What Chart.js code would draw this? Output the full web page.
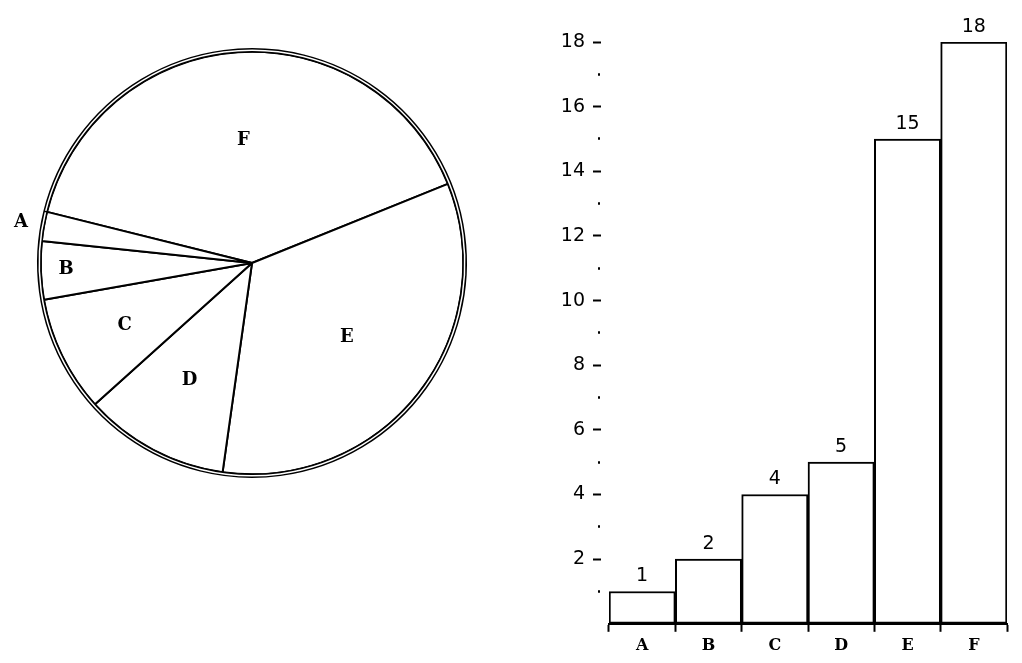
<!DOCTYPE html>
<html lang="en">
<head>
    <meta charset="UTF-8">
    <title>Pie and bar chart</title>
    <script src="https://cdn.jsdelivr.net/npm/chart.js@4.4.0/dist/chart.umd.min.js"></script>
    <style>
        body {
            margin: 0;
            background: white;
            width: 1022px;
            height: 663px;
            overflow: hidden;
            position: relative;
        }
        #pieChart {
            position: absolute;
            left: 0;
            top: 0;
        }
        #barChart {
            position: absolute;
            left: 540px;
            top: 0;
        }
    </style>
</head>
<body>
    <canvas id="pieChart" width="504" height="526"></canvas>
    <canvas id="barChart" width="482" height="663"></canvas>

    <script>
        // data
        const categories = ['A', 'B', 'C', 'D', 'E', 'F'];
        const values = [1, 2, 4, 5, 15, 18];
        const yTicks = [2, 4, 6, 8, 10, 12, 14, 16, 18];

        // how far out (share of radius) each pie letter sits
        const pieLabelRadius = { A: 1.11, B: 0.88, C: 0.67, D: 0.63, E: 0.57, F: 0.58 };

        const total = values.reduce((a, b) => a + b, 0);
        // slices run the other way round in the drawing
        const pieLabels = categories.slice().reverse();
        const pieValues = values.slice().reverse();

        const letterFont = '"DejaVu Serif", "Liberation Serif", serif';

        Chart.defaults.animation = false;
        Chart.defaults.color = '#000';

        const pieLetters = {
            id: 'pieLetters',
            afterDatasetsDraw(chart) {
                const ctx = chart.ctx;
                const meta = chart.getDatasetMeta(1);
                ctx.save();
                ctx.font = 'bold 18px ' + letterFont;
                ctx.fillStyle = '#000';
                ctx.textAlign = 'center';
                ctx.textBaseline = 'middle';
                meta.data.forEach((arc, i) => {
                    const p = arc.getProps(['x', 'y', 'startAngle', 'endAngle', 'outerRadius'], true);
                    const mid = (p.startAngle + p.endAngle) / 2;
                    const r = p.outerRadius * pieLabelRadius[pieLabels[i]];
                    ctx.fillText(pieLabels[i], p.x + Math.cos(mid) * r, p.y + Math.sin(mid) * r);
                });
                ctx.restore();
            }
        };

        new Chart(document.getElementById('pieChart'), {
            type: 'pie',
            data: {
                labels: pieLabels,
                datasets: [{
                    // thin outer ring gives the double circle line
                    data: [total],
                    weight: 3,
                    backgroundColor: '#fff',
                    borderColor: '#000',
                    borderWidth: 1.5
                }, {
                    data: pieValues,
                    weight: 212,
                    backgroundColor: '#fff',
                    borderColor: '#000',
                    borderWidth: 2
                }]
            },
            options: {
                responsive: false,
                rotation: -76,
                layout: { padding: { left: 37, right: 37, top: 48, bottom: 48 } },
                plugins: { legend: { display: false }, tooltip: { enabled: false } }
            },
            plugins: [pieLetters]
        });

        const barValues = {
            id: 'barValues',
            afterDatasetsDraw(chart) {
                const ctx = chart.ctx;
                const meta = chart.getDatasetMeta(0);
                ctx.save();
                ctx.font = '19px "DejaVu Sans", sans-serif';
                ctx.fillStyle = '#000';
                ctx.textAlign = 'center';
                ctx.textBaseline = 'middle';
                meta.data.forEach((bar, i) => {
                    ctx.fillText(String(values[i]), bar.x, bar.y - 15);
                });
                ctx.restore();
            }
        };

        new Chart(document.getElementById('barChart'), {
            type: 'bar',
            data: {
                labels: categories,
                datasets: [{
                    data: values,
                    backgroundColor: '#fff',
                    borderColor: '#000',
                    borderWidth: 2,
                    borderSkipped: false,
                    categoryPercentage: 1,
                    barPercentage: 1
                }]
            },
            options: {
                responsive: false,
                layout: { padding: { left: 0, right: 15, top: 42, bottom: 4 } },
                plugins: { legend: { display: false }, tooltip: { enabled: false } },
                scales: {
                    x: {
                        border: { display: true, color: '#000', width: 2 },
                        grid: {
                            drawOnChartArea: false,
                            tickLength: 8,
                            tickColor: '#000',
                            tickWidth: 2
                        },
                        ticks: {
                            padding: 4,
                            font: { family: letterFont, size: 16, weight: 'bold' }
                        }
                    },
                    y: {
                        min: 0,
                        max: 18,
                        afterFit(scale) { scale.width = 69; },
                        border: { display: false },
                        grid: {
                            drawOnChartArea: false,
                            tickLength: 16,
                            tickColor: c => c.tick && c.tick.value > 0 ? '#000' : 'transparent',
                            tickWidth: c => c.tick && c.tick.value % 2 === 0 ? 2 : 2.5,
                            tickBorderDash: c => c.tick && c.tick.value % 2 === 0 ? [8, 100] : [0, 5, 2, 100]
                        },
                        ticks: {
                            stepSize: 1,
                            autoSkip: false,
                            padding: 8,
                            font: { family: '"DejaVu Sans", sans-serif', size: 19 },
                            callback: v => yTicks.includes(v) ? String(v) : ''
                        }
                    }
                }
            },
            plugins: [barValues]
        });
    </script>
</body>
</html>
